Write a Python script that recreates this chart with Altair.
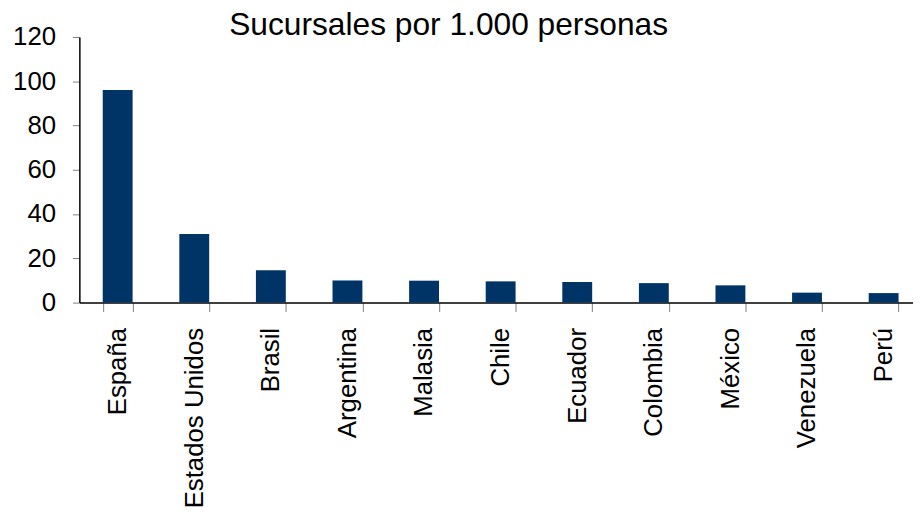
import altair as alt
import pandas as pd

paises = ["España", "Estados Unidos", "Brasil", "Argentina", "Malasia", "Chile",
          "Ecuador", "Colombia", "México", "Venezuela", "Perú"]
sucursales = [96.0, 31.0, 14.6, 10.0, 9.9, 9.6, 9.3, 8.8, 7.8, 4.5, 4.3]
y_ticks = [0, 20, 40, 60, 80, 100, 120]

df = pd.DataFrame({"pais": paises, "valor": sucursales})

FONT = "Liberation Sans"

chart = alt.Chart(df).mark_bar(color="#003366").encode(
    x=alt.X("pais:N", sort=None, title=None,
            scale=alt.Scale(range=[0, 850], paddingInner=0.61, paddingOuter=0.305),
            axis=alt.Axis(labelAngle=270, labelAlign="right", labelBaseline="middle",
                          labelFontSize=26, labelFont=FONT, labelColor="black",
                          labelPadding=16, labelLimit=400, tickSize=9,
                          tickColor="#808080", tickBand="extent",
                          domainColor="black", domainWidth=1.5, grid=False)),
    y=alt.Y("valor:Q", title=None,
            scale=alt.Scale(domain=[0, 120], nice=False),
            axis=alt.Axis(values=y_ticks, labelFontSize=26, labelFont=FONT,
                          labelColor="black", labelPadding=17, tickSize=7,
                          tickColor="#808080", domainColor="black", domainWidth=1.5,
                          grid=False)),
).properties(
    width=841,
    height=268,
    title=alt.TitleParams("Sucursales por 1.000 personas", fontSize=32, font=FONT,
                          fontWeight="normal", color="black", anchor="middle",
                          frame="group", baseline="alphabetic", offset=0,
                          dx=-48, dy=43),
    autosize=alt.AutoSizeParams(type="none"),
    padding={"left": 72, "top": 27, "right": 0, "bottom": 207},
).configure_view(stroke=None)

chart.save("out.html", embed_options={"renderer": "svg", "actions": False})
